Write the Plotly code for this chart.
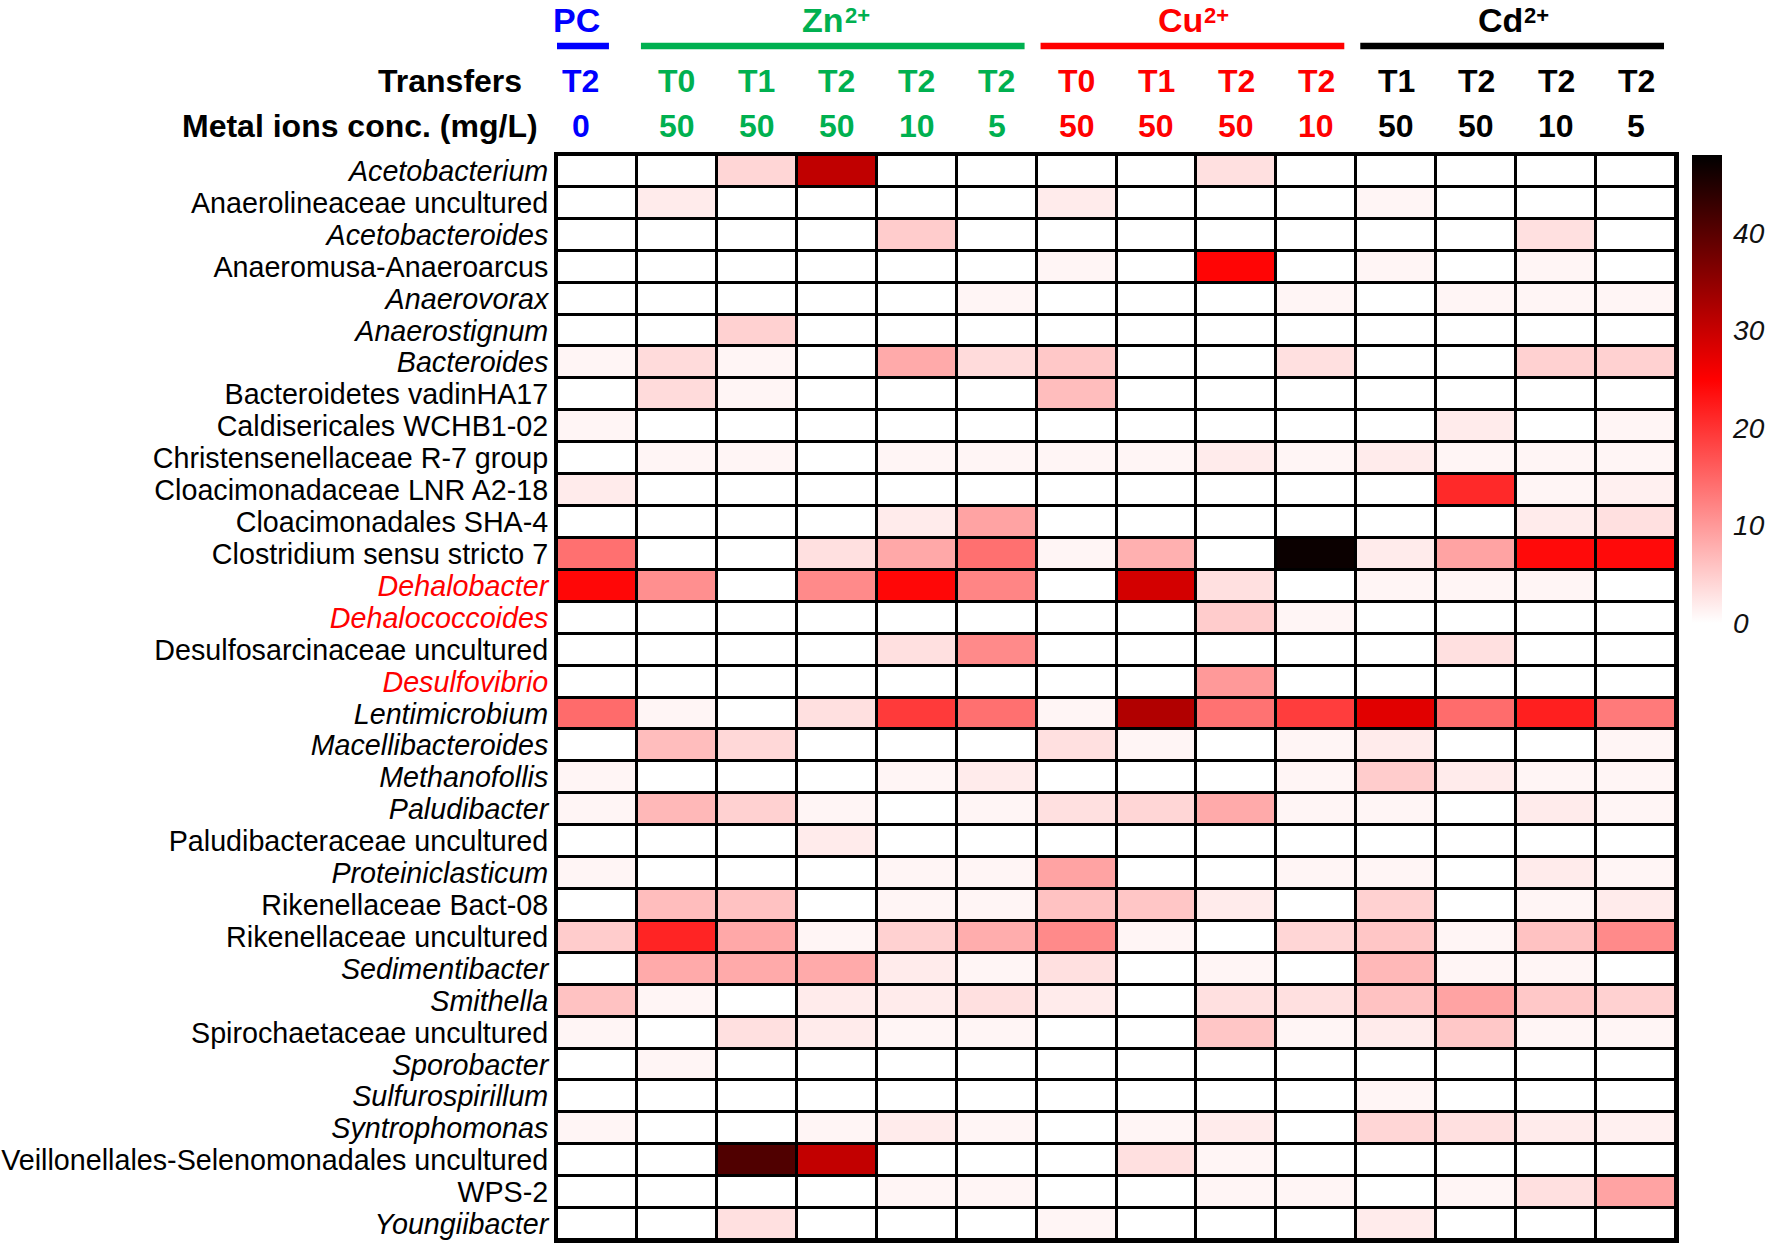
import plotly.graph_objects as go

genera = [
    "Acetobacterium", "Anaerolineaceae uncultured", "Acetobacteroides",
    "Anaeromusa-Anaeroarcus", "Anaerovorax", "Anaerostignum", "Bacteroides",
    "Bacteroidetes vadinHA17", "Caldisericales WCHB1-02",
    "Christensenellaceae R-7 group", "Cloacimonadaceae LNR A2-18",
    "Cloacimonadales SHA-4", "Clostridium sensu stricto 7", "Dehalobacter",
    "Dehalococcoides", "Desulfosarcinaceae uncultured", "Desulfovibrio",
    "Lentimicrobium", "Macellibacteroides", "Methanofollis", "Paludibacter",
    "Paludibacteraceae uncultured", "Proteiniclasticum", "Rikenellaceae Bact-08",
    "Rikenellaceae uncultured", "Sedimentibacter", "Smithella",
    "Spirochaetaceae uncultured", "Sporobacter", "Sulfurospirillum",
    "Syntrophomonas", "Veillonellales-Selenomonadales uncultured", "WPS-2",
    "Youngiibacter",
]
italic_genera = {
    "Acetobacterium", "Acetobacteroides", "Anaerovorax", "Anaerostignum",
    "Bacteroides", "Dehalobacter", "Dehalococcoides", "Desulfovibrio",
    "Lentimicrobium", "Macellibacteroides", "Methanofollis", "Paludibacter",
    "Proteiniclasticum", "Sedimentibacter", "Smithella", "Sporobacter",
    "Sulfurospirillum", "Syntrophomonas", "Youngiibacter",
}
red_genera = {"Dehalobacter", "Dehalococcoides", "Desulfovibrio"}

groups = ["PC", "Zn", "Cu", "Cd"]
group_charges = ["", "2+", "2+", "2+"]
group_sizes = [1, 5, 4, 4]
group_colors = ["#0000ff", "#00b050", "#ff0000", "#000000"]
transfers = ["T2", "T0", "T1", "T2", "T2", "T2", "T0", "T1", "T2", "T2",
             "T1", "T2", "T2", "T2"]
concs = [0, 50, 50, 50, 10, 5, 50, 50, 50, 10, 50, 50, 10, 5]

# relative abundance (%), one row per genus, columns as above
abundance = [
    [0, 0, 4, 30.7, 0, 0, 0, 0, 3, 0, 0, 0, 0, 0],
    [0, 2, 0, 0, 0, 0, 2, 0, 0, 0, 1, 0, 0, 0],
    [0, 0, 0, 0, 5, 0, 0, 0, 0, 0, 0, 0, 3, 0],
    [0, 0, 0, 0, 0, 0, 1, 0, 24.5, 0, 1, 0, 1, 0],
    [0, 0, 0, 0, 0, 1, 0, 0, 0, 1, 0, 1, 1, 1],
    [0, 0, 4.5, 0, 0, 0, 0, 0, 0, 0, 0, 0, 0, 0],
    [1, 3.5, 1, 0, 8.3, 3.5, 5.4, 0, 0, 3, 0, 0, 4.5, 4.5],
    [0, 3.5, 1, 0, 0, 0, 6.5, 0, 0, 0, 0, 0, 0, 0],
    [1, 0, 0, 0, 0, 0, 0, 0, 0, 0, 0, 2, 0, 1],
    [0, 1, 1, 0, 1, 1, 1, 1, 2, 1, 2, 1, 1, 1],
    [2, 0, 0, 0, 0, 0, 0, 0, 0, 0, 0, 21, 1, 1.5],
    [0, 0, 0, 0, 2, 9, 0, 0, 0, 0, 0, 0, 2, 3],
    [14, 0, 0, 3, 8.5, 14, 1, 7.7, 0, 47, 2, 9, 24, 24],
    [24.3, 11, 0, 11.5, 24.3, 12, 0, 29, 3, 0, 1, 1, 1, 0],
    [0, 0, 0, 0, 0, 0, 0, 0, 5, 1, 0, 0, 0, 0],
    [0, 0, 0, 0, 3, 11.5, 0, 0, 0, 0, 0, 3, 0, 0],
    [0, 0, 0, 0, 0, 0, 0, 0, 10, 0, 0, 0, 0, 0],
    [14.5, 1, 0, 3, 19.3, 14, 1, 32, 13.8, 19, 27.7, 14.4, 22, 13],
    [0, 6.5, 3.8, 0, 0, 0, 3, 1, 0, 1, 2, 0, 0, 1],
    [1, 0, 0, 0, 1, 2, 0, 0, 0, 1, 5, 2, 1, 1],
    [1, 7, 4.5, 1, 0, 1, 3, 4, 8.3, 1, 1, 0, 2, 1],
    [0, 0, 0, 2, 0, 0, 0, 0, 0, 0, 0, 0, 0, 0],
    [1, 0, 0, 0, 1, 1, 9, 0, 0, 1, 1, 0, 2, 1],
    [0, 6.5, 6, 0, 1, 1, 6, 5.6, 2, 0, 4.5, 0, 1, 2],
    [5, 21.5, 8.5, 1, 4.5, 8, 11.5, 1, 0, 4, 5.6, 1, 6, 11.5],
    [0, 8.3, 8.3, 8.3, 2, 1, 3, 0, 1, 0, 7, 1, 1, 0],
    [6, 1, 0, 2, 2, 3, 2, 0, 3, 3, 6, 9, 5.4, 4.5],
    [1, 0, 3, 2, 1, 1, 0, 0, 5.6, 1, 2, 5.4, 1, 1],
    [0, 1, 0, 0, 0, 0, 0, 0, 0, 0, 0, 0, 0, 0],
    [0, 0, 0, 0, 0, 0, 0, 0, 0, 0, 1, 0, 0, 0],
    [1, 0, 0, 1, 2, 1, 0, 1, 2, 0, 4, 3, 2, 1.5],
    [0, 0, 40.8, 30.5, 0, 0, 0, 3, 1, 0, 0, 0, 0, 0],
    [0, 0, 0, 0, 1, 1, 0, 0, 1, 1, 0, 1, 3, 9],
    [0, 0, 3, 0, 0, 0, 1, 0, 0, 0, 2, 0, 0, 0],
]

FONT = "Arial, Liberation Sans, sans-serif"
ZMAX = 48

def label(name):
    txt = f"<i>{name}</i>" if name in italic_genera else name
    if name in red_genera:
        txt = f"<span style='color:#ff0000'>{txt}</span>"
    return txt

n_cols = len(concs)
col_colors = []
for c, n in zip(group_colors, group_sizes):
    col_colors += [c] * n

fig = go.Figure(go.Heatmap(
    z=abundance,
    x=list(range(n_cols)),
    y=list(range(len(genera))),
    zmin=0, zmax=ZMAX,
    colorscale=[[0, "#ffffff"], [25 / ZMAX, "#ff0000"], [1, "#000000"]],
    xgap=3, ygap=3,
    colorbar=dict(
        x=1.0143, xanchor="left", xpad=0, y=1, yanchor="top", ypad=0,
        len=0.431, thickness=30, outlinewidth=0,
        tickvals=[0, 10, 20, 30, 40], ticks="outside", ticklen=6,
        tickcolor="rgba(0,0,0,0)",
        tickfont=dict(family=FONT, size=28, color="#111111", style="italic"),
    ),
    hoverinfo="skip",
))

# group headers with underline bars; charge drawn as its own small label
TOP = 1 + 155 / 1085
start = 0
for g, q, n, c in zip(groups, group_charges, group_sizes, group_colors):
    off = -0.2 if n == 1 else 0
    x0, x1 = start - 0.45 + off, start + n - 1 + 0.35 + off
    xc = (x0 + x1) / 2
    fig.add_shape(type="line", xref="x", yref="paper", x0=x0, x1=x1,
                  y0=1.1005, y1=1.1005, line=dict(color=c, width=6.5))
    if q:
        fig.add_annotation(x=xc, y=TOP, xref="x", yref="paper",
                           text=f"<b>{g}</b>", showarrow=False, borderpad=0,
                           xanchor="right", yanchor="top", xshift=12,
                           font=dict(family=FONT, size=34, color=c))
        fig.add_annotation(x=xc, y=TOP, xref="x", yref="paper",
                           text=f"<b>{q}</b>", showarrow=False, borderpad=0,
                           xanchor="left", yanchor="top", xshift=11, yshift=-2,
                           font=dict(family=FONT, size=22, color=c))
    else:
        fig.add_annotation(x=xc, y=TOP, xref="x", yref="paper",
                           text=f"<b>{g}</b>", showarrow=False, borderpad=0,
                           yanchor="top",
                           font=dict(family=FONT, size=34, color=c))
    start += n

for i, (t, cc, col) in enumerate(zip(transfers, concs, col_colors)):
    off = -0.2 if i == 0 else 0
    fig.add_annotation(x=i + off, y=1.068, xref="x", yref="paper",
                       text=f"<b>{t}</b>", showarrow=False, yanchor="middle",
                       font=dict(family=FONT, size=32, color=col))
    fig.add_annotation(x=i + off, y=1.027, xref="x", yref="paper",
                       text=f"<b>{cc}</b>", showarrow=False, yanchor="middle",
                       font=dict(family=FONT, size=32, color=col))

fig.add_annotation(x=-0.0295, y=1.068, xref="paper", yref="paper",
                   text="<b>Transfers</b>", showarrow=False,
                   xanchor="right", yanchor="middle",
                   font=dict(family=FONT, size=32, color="black"))
fig.add_annotation(x=-0.0152, y=1.027, xref="paper", yref="paper",
                   text="<b>Metal ions conc. (mg/L)</b>", showarrow=False,
                   xanchor="right", yanchor="middle",
                   font=dict(family=FONT, size=32, color="black"))

fig.update_layout(
    width=1772, height=1251,
    margin=dict(l=557, r=96, t=155, b=11, autoexpand=False),
    paper_bgcolor="white", plot_bgcolor="black",
    font=dict(family=FONT, color="black"),
)
fig.update_xaxes(range=[-0.5, n_cols - 0.5], showticklabels=False,
                 showgrid=False, zeroline=False, showline=True, mirror=True,
                 linecolor="black", linewidth=3)
fig.update_yaxes(range=[len(genera) - 0.5, -0.5], tickvals=list(range(len(genera))),
                 ticktext=[label(g) for g in genera], ticks="",
                 tickfont=dict(family=FONT, size=28.7, color="black"),
                 showgrid=False, zeroline=False, showline=True, mirror=True,
                 linecolor="black", linewidth=3)

# drop the browser's default body margin so the figure fills the window
fig.write_html("out.html", config={"displayModeBar": False},
               post_script="document.body.style.margin='0px';")
